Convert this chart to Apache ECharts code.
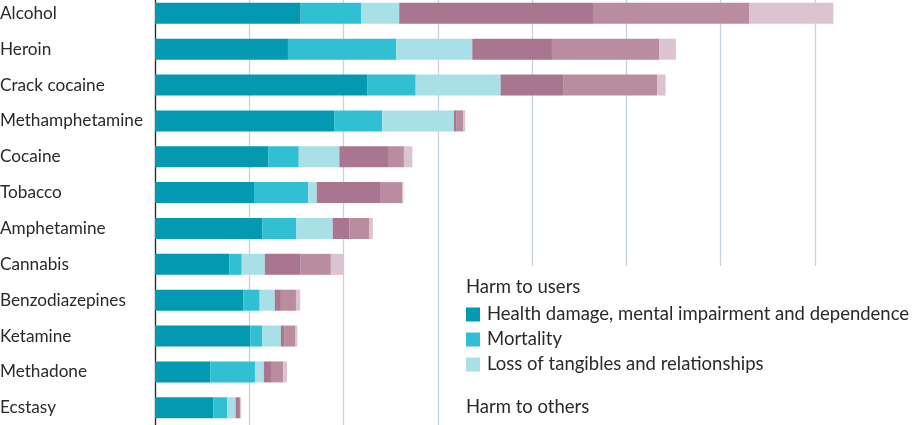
<!DOCTYPE html>
<html>
<head>
<meta charset="utf-8">
<script src="https://cdn.jsdelivr.net/npm/echarts@6/dist/echarts.min.js"></script>
<style>
html,body{margin:0;padding:0;background:#fff;}
#chart{width:920px;height:425px;}
</style>
</head>
<body>
<div id="chart"></div>
<script>
const categories = ["Alcohol","Heroin","Crack cocaine","Methamphetamine","Cocaine","Tobacco","Amphetamine","Cannabis","Benzodiazepines","Ketamine","Methadone","Ecstasy"];

// Harm to users
const healthDamage = [15.45, 14.1, 22.55, 19.0, 12.0, 10.5, 11.4, 7.9, 9.35, 10.1, 5.85, 6.2];
const mortality    = [6.4, 11.5, 5.1, 5.1, 3.25, 5.75, 3.6, 1.3, 1.75, 1.25, 4.75, 1.45];
const lossTangibles= [4.05, 8.05, 9.0, 7.6, 4.3, 0.9, 3.85, 2.45, 1.6, 2.0, 0.95, 0.9];
// Harm to others
const crimeInjury  = [20.55, 8.45, 6.7, 0.3, 5.25, 6.8, 1.75, 3.8, 0.65, 0.35, 0.75, 0.45];
const economicCost = [16.6, 11.4, 9.9, 0.7, 1.6, 2.25, 2.1, 3.2, 1.6, 1.15, 1.3, 0.05];
const community    = [8.9, 1.75, 0.9, 0.2, 0.9, 0.15, 0.4, 1.35, 0.45, 0.25, 0.4, 0.1];

const xTicks = [0, 10, 20, 30, 40, 50, 60, 70, 80];

const seriesDefs = [
  {name: "Health damage, mental impairment and dependence", data: healthDamage, color: "#0399b0"},
  {name: "Mortality", data: mortality, color: "#31c0d3"},
  {name: "Loss of tangibles and relationships", data: lossTangibles, color: "#a9dfe7"},
  {name: "Injury, crime and family adversities", data: crimeInjury, color: "#a8768e"},
  {name: "Economic cost", data: economicCost, color: "#b98c9f"},
  {name: "Environmental, international and community damage", data: community, color: "#dbc4cf"}
];

const FONT = "Lato";
const LABEL_SIZE = 17.2;
const LEGEND_SIZE = 18.5;
const chart = echarts.init(document.getElementById('chart'), null, {renderer: 'canvas'});
chart.setOption({
  animation: false,
  backgroundColor: '#ffffff',
  textStyle: {fontFamily: FONT},
  grid: {left: 155, right: 10.7, top: -4.6, bottom: -0.7, containLabel: false, outerBoundsMode: 'none'},
  xAxis: {
    type: 'value', min: xTicks[0], max: xTicks[xTicks.length - 1], interval: 10,
    axisLine: {show: false}, axisTick: {show: false}, axisLabel: {show: false},
    splitLine: {show: true, showMaxLine: false, lineStyle: {color: '#c3d2dc', width: 1.3}}
  },
  yAxis: {
    type: 'category', data: categories, inverse: true,
    axisLine: {show: true, lineStyle: {color: '#2a2a2a', width: 1.3}},
    axisTick: {show: false},
    axisLabel: {align: 'left', margin: 155, color: '#2a2a2a', fontSize: LABEL_SIZE, fontFamily: FONT, padding: [2, 0, 0, 0]}
  },
  legend: {
    data: seriesDefs.slice(0, 3).map(s => s.name),
    orient: 'vertical', left: 466, top: 305, z: 20, padding: 0,
    itemWidth: 14, itemHeight: 14, itemGap: 6,
    icon: 'rect', selectedMode: false,
    textStyle: {fontSize: LEGEND_SIZE, color: '#2a2a2a', fontFamily: FONT, padding: [0, 0, 0, 2]}
  },
  graphic: {elements: [
    {type: 'rect', left: 445, top: 266, shape: {width: 475, height: 160}, style: {fill: '#ffffff'}, z: 10},
    {type: 'text', left: 466, top: 278, z: 20, style: {text: 'Harm to users', fontSize: LEGEND_SIZE, fill: '#2a2a2a', fontFamily: FONT}},
    {type: 'text', left: 466, top: 398, z: 20, style: {text: 'Harm to others', fontSize: LEGEND_SIZE, fill: '#2a2a2a', fontFamily: FONT}}
  ]},
  series: seriesDefs.map(s => ({
    name: s.name, type: 'bar', stack: 'total', data: s.data, barWidth: 21,
    itemStyle: {color: s.color}, emphasis: {disabled: true}
  }))
});
</script>
</body>
</html>
